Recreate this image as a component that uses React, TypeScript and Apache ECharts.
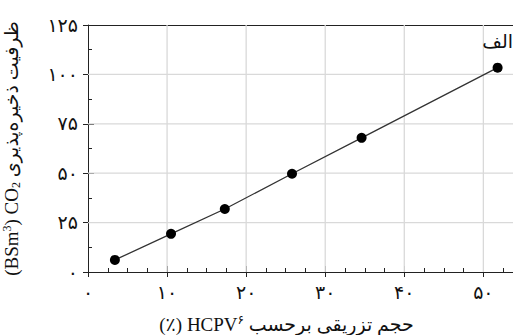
import React, { useEffect, useRef } from "react";
import * as echarts from "echarts";

const xValues = [3.4, 10.5, 17.3, 25.8, 34.6, 51.8];
const yValues = [6.1, 19.3, 31.9, 49.7, 67.9, 103.4];
const xTickLabels: Record<number, string> = { 0: "۰", 10: "۱۰", 20: "۲۰", 30: "۳۰", 40: "۴۰", 50: "۵۰" };
const yTickLabels: Record<number, string> = { 0: "۰", 25: "۲۵", 50: "۵۰", 75: "۷۵", 100: "۱۰۰", 125: "۱۲۵" };
const xGridValues = [10, 20, 30, 40, 50];
const yGridValues = [25, 50, 75, 100];
const panelLabel = "الف";

const FONT = "'Liberation Serif', 'DejaVu Sans', serif";
const GRID_COLOR = "#d9d9d9";
const X_MIN = 0;
const X_MAX = 54;
const Y_MIN = 0;
const Y_MAX = 125;

export default function App() {
  const ref = useRef<HTMLDivElement>(null);
  useEffect(() => {
    const chart = echarts.init(ref.current!, null, { renderer: "svg" });
    const data = xValues.map((x, i) => [x, yValues[i]]);
    const baseX = {
      type: "value" as const,
      min: X_MIN,
      max: X_MAX,
      interval: 10,
    };
    const baseY = {
      type: "value" as const,
      min: Y_MIN,
      max: Y_MAX,
      interval: 25,
    };
    const gridSeries = [
      ...xGridValues.map((v) => [
        [v, Y_MIN],
        [v, Y_MAX],
      ]),
      ...yGridValues.map((v) => [
        [X_MIN, v],
        [X_MAX, v],
      ]),
    ].map((pts) => ({
      type: "line",
      xAxisIndex: 0,
      yAxisIndex: 0,
      data: pts,
      symbol: "none",
      silent: true,
      z: 1,
      lineStyle: { color: GRID_COLOR, width: 1.3 },
    }));
    chart.setOption({
      animation: false,
      grid: {
        left: 88,
        top: 25,
        width: 427,
        height: 247,
        show: false,
        containLabel: false,
        outerBoundsMode: "none",
      },
      xAxis: [
        {
          ...baseX,
          position: "bottom",
          axisLine: { show: true, lineStyle: { color: "#222", width: 1 } },
          axisTick: { show: true, inside: true, length: 6, lineStyle: { color: "#222" } },
          minorTick: { show: true, splitNumber: 4, length: 4, lineStyle: { color: "#222" } },
          splitLine: { show: false },
          axisLabel: {
            margin: 11,
            fontSize: 19,
            color: "#111",
            fontFamily: FONT,
            formatter: (v: number) => xTickLabels[v] ?? "",
          },
          name: "(٪) HCPV{sup|۶} حجم تزریقی برحسب",
          nameLocation: "middle",
          nameGap: 42,
          nameTextStyle: {
            fontSize: 19,
            color: "#111",
            fontFamily: FONT,
            padding: [0, 30, 0, 0],
            rich: {
              sup: { fontSize: 12, verticalAlign: "top", padding: [0, 0, 9, 0], fontFamily: FONT, color: "#111" },
            },
          },
        },
        {
          ...baseX,
          position: "bottom",
          axisLine: { show: false },
          axisTick: { show: true, inside: false, length: 5, lineStyle: { color: "#222" } },
          axisLabel: { show: false },
          splitLine: { show: false },
        },
        {
          ...baseX,
          position: "top",
          axisLine: { show: true, lineStyle: { color: "#222", width: 1 } },
          axisTick: { show: false },
          axisLabel: { show: false },
          splitLine: { show: false },
        },
      ],
      yAxis: [
        {
          ...baseY,
          position: "left",
          axisLine: { show: true, lineStyle: { color: "#222", width: 1 } },
          axisTick: { show: true, inside: true, length: 6, lineStyle: { color: "#222" } },
          minorTick: { show: true, splitNumber: 2, length: 4, lineStyle: { color: "#222" } },
          splitLine: { show: false },
          axisLabel: {
            margin: 10,
            fontSize: 19,
            color: "#111",
            fontFamily: FONT,
            formatter: (v: number) => yTickLabels[v] ?? "",
          },
          name: "(BSm{sup|3}) CO{sub|2} ظرفیت ذخیره‌پذیری",
          nameLocation: "middle",
          nameRotate: 90,
          nameGap: 66,
          nameTextStyle: {
            fontSize: 19,
            color: "#111",
            fontFamily: FONT,
            rich: {
              sup: { fontSize: 12, verticalAlign: "top", padding: [0, 0, 9, 0], fontFamily: FONT, color: "#111" },
              sub: { fontSize: 12, verticalAlign: "bottom", padding: [9, 0, 0, 0], fontFamily: FONT, color: "#111" },
            },
          },
        },
        {
          ...baseY,
          position: "left",
          axisLine: { show: false },
          axisTick: { show: true, inside: false, length: 5, lineStyle: { color: "#222" } },
          axisLabel: { show: false },
          splitLine: { show: false },
        },
      ],
      series: [
        ...gridSeries,
        {
          type: "line",
          xAxisIndex: 0,
          yAxisIndex: 0,
          z: 3,
          data: data.map((d, i) =>
            i === data.length - 1
              ? {
                  value: d,
                  label: {
                    show: true,
                    position: "top",
                    distance: 12,
                    formatter: panelLabel,
                    fontSize: 19,
                    color: "#111",
                    fontFamily: FONT,
                  },
                }
              : d
          ),
          symbol: "circle",
          symbolSize: 10,
          itemStyle: { color: "#000" },
          lineStyle: { color: "#333", width: 1.3 },
        },
      ],
    });
    return () => chart.dispose();
  }, []);
  return <div ref={ref} style={{ width: 513, height: 335, position: "absolute", left: 0, top: 0 }} />;
}
